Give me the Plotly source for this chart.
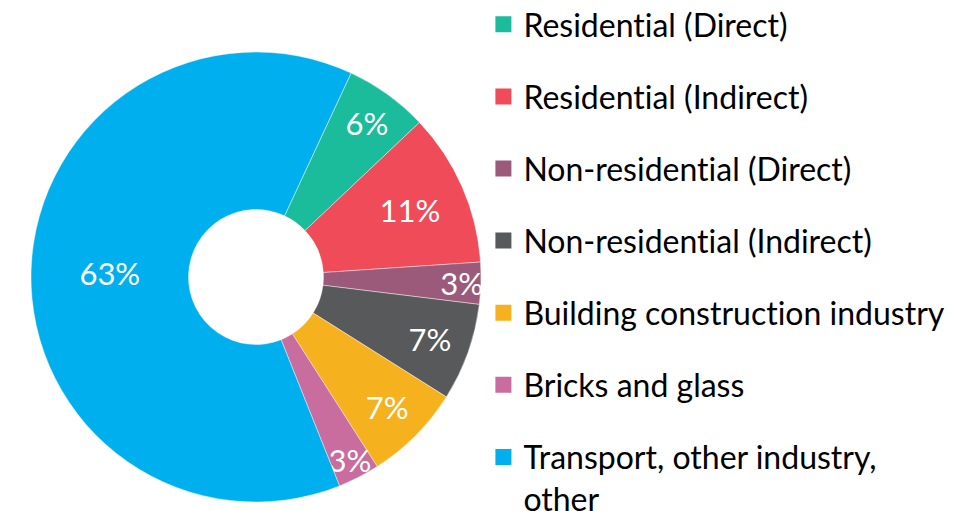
import plotly.graph_objects as go

labels = [
    "Residential (Direct)",
    "Residential (Indirect)",
    "Non-residential (Direct)",
    "Non-residential (Indirect)",
    "Building construction industry",
    "Bricks and glass",
    "Transport, other industry,<br>other",
]
values = [6, 11, 3, 7, 7, 3, 63]
colors = ["#1ABC9C", "#EF4B58", "#9B5A7A", "#58595B", "#F5B11E", "#C96C9E", "#00B0EE"]

W, H = 971, 511
cx, cy, R = 248, 269, 225

fig = go.Figure()
fig.add_trace(go.Pie(
    labels=labels,
    values=values,
    marker=dict(colors=colors, line=dict(color="rgba(255,255,255,0.7)", width=0.6)),
    hole=0.30,
    sort=False,
    direction="clockwise",
    rotation=25,
    texttemplate="%{value}%",
    textposition="inside",
    insidetextorientation="horizontal",
    textfont=dict(family="Lato", size=31, color="white"),
    domain=dict(x=[(cx - R) / W, (cx + R) / W], y=[1 - (cy + R) / H, 1 - (cy - R) / H]),
    showlegend=False,
    hoverinfo="label+percent",
))

# legend entries (one per slice, same labels and colours)
for lab, col in zip(labels, colors):
    fig.add_trace(go.Scatter(
        x=[None], y=[None], mode="markers",
        name=lab.replace("ti", "t\u200ci"),
        marker=dict(symbol="square", size=18, color=col),
        legendgroup=lab, showlegend=True, hoverinfo="skip",
    ))

fig.update_layout(
    width=W, height=H,
    margin=dict(l=0, r=0, t=0, b=0, autoexpand=False),
    paper_bgcolor="white",
    plot_bgcolor="white",
    font=dict(family="Lato", size=32, color="black"),
    uniformtext=dict(minsize=31, mode="show"),
    xaxis=dict(visible=False),
    yaxis=dict(visible=False),
    legend=dict(
        x=0.4896, y=1.0215, xanchor="left", yanchor="top",
        font=dict(family="Lato", size=32, color="black"),
        valign="top",
        tracegroupgap=27.5,
        itemwidth=30,
        maxheight=700,
        bgcolor="rgba(0,0,0,0)",
    ),
)

fig.write_html("out.html")
